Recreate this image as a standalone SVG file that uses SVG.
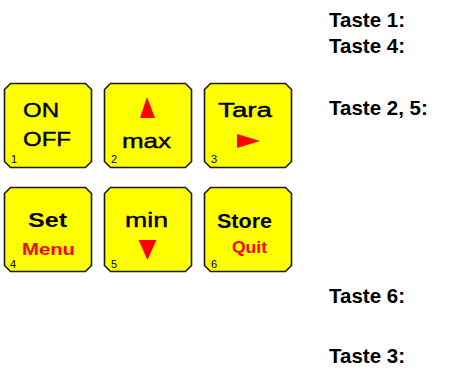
<svg xmlns="http://www.w3.org/2000/svg" width="459" height="374" viewBox="0 0 459 374">
  <defs>
    <!-- chamfered key cap, 87 x 84 -->
    <path id="cap" d="M6,0 H81 L87,6 V78 L81,84 H6 L0,78 V6 Z"/>
  </defs>
  <style>
    .key use { fill: #ffff00; stroke: #1a1a1a; stroke-width: 1.6; }
    .lbl { font-family: "Liberation Sans", Arial, sans-serif; font-size: 20px; fill: #000; stroke: #000; stroke-width: 0.4; }
    .b { font-weight: bold; stroke: none; }
    .sub { font-family: "Liberation Sans", Arial, sans-serif; font-size: 11px; fill: #000; }
    .red { font-family: "Liberation Sans", Arial, sans-serif; font-size: 17px; font-weight: bold; fill: #ff0000; }
    .mark { fill: #ff0000; }
    .note { font-family: "Liberation Sans", Arial, sans-serif; font-size: 20.5px; font-weight: bold; fill: #000; }
  </style>

  <g id="key1" class="key">
    <use href="#cap" x="4.5" y="83.5"/>
    <text class="lbl" x="23" y="117" textLength="36" lengthAdjust="spacingAndGlyphs">ON</text>
    <text class="lbl" x="23" y="146" textLength="48" lengthAdjust="spacingAndGlyphs">OFF</text>
    <text class="sub" x="11" y="163">1</text>
  </g>

  <g id="key2" class="key">
    <use href="#cap" x="104.5" y="83.5"/>
    <polygon class="mark" points="147,97 140,118 155,118"/>
    <text class="lbl" x="122" y="148" textLength="49" lengthAdjust="spacingAndGlyphs">max</text>
    <text class="sub" x="111" y="163">2</text>
  </g>

  <g id="key3" class="key">
    <use href="#cap" x="204.5" y="83.5"/>
    <text class="lbl" x="218" y="117" textLength="54" lengthAdjust="spacingAndGlyphs">Tara</text>
    <polygon class="mark" points="237,134 260,141 237,148"/>
    <text class="sub" x="211" y="163">3</text>
  </g>

  <g id="key4" class="key">
    <use href="#cap" x="4.5" y="187.5"/>
    <text class="lbl b" x="28" y="227" textLength="39" lengthAdjust="spacingAndGlyphs">Set</text>
    <text class="red" x="22" y="255" textLength="53" lengthAdjust="spacingAndGlyphs">Menu</text>
    <text class="sub" x="10" y="268">4</text>
  </g>

  <g id="key5" class="key">
    <use href="#cap" x="104.5" y="187.5"/>
    <text class="lbl" x="125" y="227" textLength="43" lengthAdjust="spacingAndGlyphs">min</text>
    <polygon class="mark" points="138.5,240 156.5,240 147.5,260"/>
    <text class="sub" x="111" y="268">5</text>
  </g>

  <g id="key6" class="key">
    <use href="#cap" x="204.5" y="187.5"/>
    <text class="lbl b" x="217" y="228" textLength="55" lengthAdjust="spacingAndGlyphs">Store</text>
    <text class="red" x="232" y="253" textLength="35" lengthAdjust="spacingAndGlyphs">Quit</text>
    <text class="sub" x="211" y="268">6</text>
  </g>

  <g id="notes">
    <text class="note" x="329" y="27">Taste 1:</text>
    <text class="note" x="329" y="53">Taste 4:</text>
    <text class="note" x="329" y="115">Taste 2, 5:</text>
    <text class="note" x="329" y="303">Taste 6:</text>
    <text class="note" x="329" y="363">Taste 3:</text>
  </g>
</svg>
